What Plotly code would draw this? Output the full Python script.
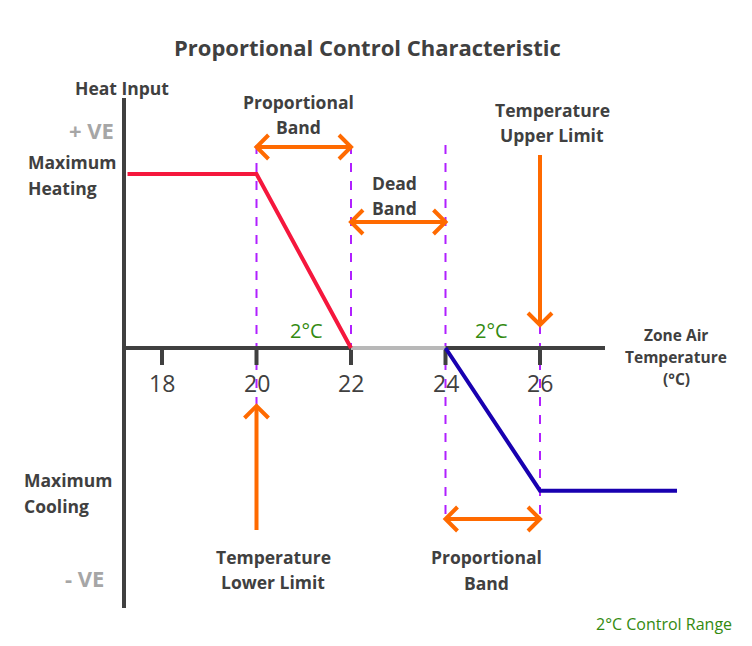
import plotly.graph_objects as go

# ---------------- data ----------------
tick_temps = [18, 20, 22, 24, 26]
tick_labels = ["18", "20", "22", "24", "26"]

heating_temp = [17.27, 20, 22]
heating_input = [1.0, 1.0, 0.0]

deadband_temp = [22, 24]
deadband_input = [0.0, 0.0]

cooling_temp = [24, 26, 28.9]
cooling_input = [0.0, -0.82, -0.82]

lower_limit = 20
upper_limit = 26
heat_band = [20, 22]
dead_band = [22, 24]
cool_band = [24, 26]

# ---------------- layout mapping ----------------
PAGE_W, PAGE_H = 752, 646
OFF = 8               # default body margin of the html page
W, H = PAGE_W - OFF, PAGE_H - OFF
PX_T = 47.25          # pixels per degree C
PX_Y = 174.0          # pixels per unit heat input
X0_PX, T0 = 162, 18   # page pixel of 18 C
Y0_PX = 348           # page pixel of zero heat input


def px2t(px):
    return T0 + (px - X0_PX) / PX_T


def py2y(py):
    return (Y0_PX - py) / PX_Y


DARK = "#404040"
GRAY = "#a6a6a6"
RED = "#f5173d"
BLUE = "#1800b0"
DEAD = "#b8b8b8"
PURPLE = "#b020ff"
ORANGE = "#ff6a00"
GREEN = "#338a10"
FONT = "Open Sans"

fig = go.Figure()


def line(xs, ys, color, width=4, dash=None):
    fig.add_trace(go.Scatter(x=xs, y=ys, mode="lines", hoverinfo="skip",
                             line=dict(color=color, width=width, dash=dash),
                             showlegend=False))


# dashed purple guide lines
line([20, 20], [py2y(145), py2y(408)], PURPLE, 2, "dash")
line([22, 22], [py2y(145), 0], PURPLE, 2, "dash")
line([24, 24], [py2y(145), py2y(522)], PURPLE, 2, "dash")
line([26, 26], [py2y(325), py2y(522)], PURPLE, 2, "dash")

# axes
x_axis_left = px2t(124)
line([x_axis_left, x_axis_left], [py2y(98), py2y(608)], DARK, 4)
line([x_axis_left, px2t(605)], [0, 0], DARK, 4)
for t in tick_temps:
    line([t, t], [0, py2y(365)], DARK, 4)

# characteristic lines
line(deadband_temp, deadband_input, DEAD, 4)
line(heating_temp, heating_input, RED, 4)
line(cooling_temp, cooling_input, BLUE, 4)

# orange arrows with open chevron heads
AH = 12  # arrow head size in px
dxh = AH / PX_T
dyh = AH / PX_Y


def harrow(t1, t2, y):
    line([t1, t2], [y, y], ORANGE, 4)
    line([t1 + dxh, t1, t1 + dxh], [y + dyh, y, y - dyh], ORANGE, 4)
    line([t2 - dxh, t2, t2 - dxh], [y + dyh, y, y - dyh], ORANGE, 4)


def varrow(t, y_from, y_to):
    line([t, t], [y_from, y_to], ORANGE, 4)
    s = 1 if y_to > y_from else -1
    line([t - dxh, t, t + dxh], [y_to - s * dyh, y_to, y_to - s * dyh], ORANGE, 4)


harrow(heat_band[0], heat_band[1], py2y(147))
harrow(dead_band[0], dead_band[1], py2y(222))
harrow(cool_band[0], cool_band[1], py2y(519))
varrow(upper_limit, py2y(155), py2y(325))
varrow(lower_limit, py2y(530), py2y(406))

# ---------------- text ----------------
ann = []
LBL = 17.5


def text(s, px, py, size=LBL, color=DARK, bold=True, anchor="center", family=FONT):
    ann.append(dict(x=px2t(px), y=py2y(py), xref="x", yref="y", text=(f"<b>{s}</b>" if bold else s),
                    showarrow=False, xanchor=anchor, yanchor="middle",
                    font=dict(family=family, size=size, color=color)))


def lines_text(strs, px, py0, step, **kw):
    for i, s in enumerate(strs):
        text(s, px, py0 + i * step, **kw)


text("Proportional Control Characteristic", 367, 47, size=22)
text("Heat Input", 122, 88, size=17.5)
text("+ VE", 116, 130, size=22, color=GRAY, anchor="right")
lines_text(["Maximum", "Heating"], 26, 162, 26, anchor="left")
lines_text(["Proportional", "Band"], 298, 102, 25)
lines_text(["Dead", "Band"], 394, 183, 25)
lines_text(["Temperature", "Upper Limit"], 552, 110, 25)
text("2°C", 306, 330, size=20, color=GREEN, bold=False)
text("2°C", 491, 330, size=20, color=GREEN, bold=False)
lines_text(["Zone Air", "Temperature", "(°C)"], 676, 335, 22, size=15.5)
for t, lab in zip(tick_temps, tick_labels):
    ann.append(dict(x=t, y=py2y(383), xref="x", yref="y", text=lab, showarrow=False,
                    xanchor="center", yanchor="middle",
                    font=dict(family=FONT, size=23, color=DARK)))
lines_text(["Maximum", "Cooling"], 22, 480, 26, anchor="left")
lines_text(["Temperature", "Lower Limit"], 273, 557, 25)
lines_text(["Proportional", "Band"], 486, 557, 26)
text("- VE", 106, 578, size=22, color=GRAY, anchor="right")
text("2°C Control Range", 664, 624, size=16, color=GREEN, bold=False)

fig.update_layout(
    width=W, height=H, autosize=False,
    margin=dict(l=0, r=0, t=0, b=0, pad=0),
    paper_bgcolor="white", plot_bgcolor="white",
    xaxis=dict(range=[px2t(OFF), px2t(PAGE_W)], visible=False, fixedrange=True),
    yaxis=dict(range=[py2y(PAGE_H), py2y(OFF)], visible=False, fixedrange=True),
    annotations=ann,
    showlegend=False,
)

fig.write_html("out.html")
